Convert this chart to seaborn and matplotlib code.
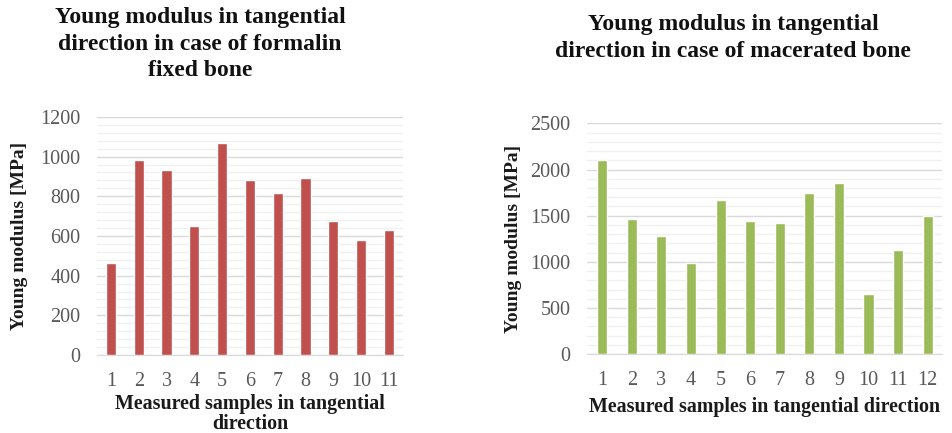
import pandas as pd
import seaborn as sns
import matplotlib.pyplot as plt
from matplotlib.ticker import MultipleLocator

# Data
formalin_samples = ['1', '2', '3', '4', '5', '6', '7', '8', '9', '10', '11']
formalin_modulus = [464, 981, 933, 649, 1068, 881, 815, 892, 677, 582, 632]

macerated_samples = ['1', '2', '3', '4', '5', '6', '7', '8', '9', '10', '11', '12']
macerated_modulus = [2106, 1463, 1275, 986, 1669, 1441, 1420, 1745, 1853, 654, 1134, 1496]

sns.set_style('white')
plt.rcParams['font.family'] = ['Liberation Serif', 'DejaVu Serif']

fig = plt.figure(figsize=(9.52, 4.33), dpi=100)
ax1 = fig.add_axes([0.102, 0.180, 0.321, 0.550])
ax2 = fig.add_axes([0.617, 0.182, 0.373, 0.533])

df1 = pd.DataFrame({'sample': formalin_samples, 'modulus': formalin_modulus})
df2 = pd.DataFrame({'sample': macerated_samples, 'modulus': macerated_modulus})

sns.barplot(data=df1, x='sample', y='modulus', color='#C0504D', width=0.37,
            saturation=1, ax=ax1, zorder=3)
sns.barplot(data=df2, x='sample', y='modulus', color='#9BBB59', width=0.34,
            saturation=1, ax=ax2, zorder=3)

# axis, y top, major step, minor step, n bars, x label, ylabel x, xlabel y
setup = [
    (ax1, 1200, 200, 40, len(formalin_samples),
     'Measured samples in tangential\ndirection', -0.225, -0.163),
    (ax2, 2500, 500, 100, len(macerated_samples),
     'Measured samples in tangential direction', -0.183, -0.186),
]

for ax, top, major, minor, n, xlabel, ylx, xly in setup:
    ax.set_ylim(0, top)
    ax.set_xlim(-0.5, n - 0.5)
    ax.yaxis.set_major_locator(MultipleLocator(major))
    ax.yaxis.set_minor_locator(MultipleLocator(minor))
    ax.grid(axis='y', which='major', color='#d9d9d9', linewidth=1.0, zorder=0)
    ax.grid(axis='y', which='minor', color='#f0f0f0', linewidth=1.0, zorder=0)
    for s in ['top', 'right', 'left']:
        ax.spines[s].set_visible(False)
    ax.spines['bottom'].set_color('#d9d9d9')
    ax.tick_params(axis='both', which='both', length=0, labelsize=14.5,
                   labelcolor='#595959')
    ax.tick_params(axis='y', pad=12)
    ax.tick_params(axis='x', pad=12)
    ax.set_ylabel('Young modulus [MPa]', fontsize=14, fontweight='bold',
                  color='#1a1a1a')
    ax.yaxis.set_label_coords(ylx, 0.5)
    ax.set_xlabel(xlabel, fontsize=14.4, fontweight='bold', color='#1a1a1a',
                  linespacing=1.0, va='top')
    ax.xaxis.set_label_coords(0.5, xly)

# titles placed like the reference (not centred on the plot area)
fig.text(200 / 952, 1 - 7 / 433,
         'Young modulus in tangential\ndirection in case of formalin\nfixed bone',
         ha='center', va='top', fontsize=17, fontweight='bold',
         color='#111111', linespacing=1.35)
fig.text(733 / 952, 1 - 14 / 433,
         'Young modulus in tangential\ndirection in case of macerated bone',
         ha='center', va='top', fontsize=17, fontweight='bold',
         color='#111111', linespacing=1.35)

plt.savefig('out.png', dpi=100)
